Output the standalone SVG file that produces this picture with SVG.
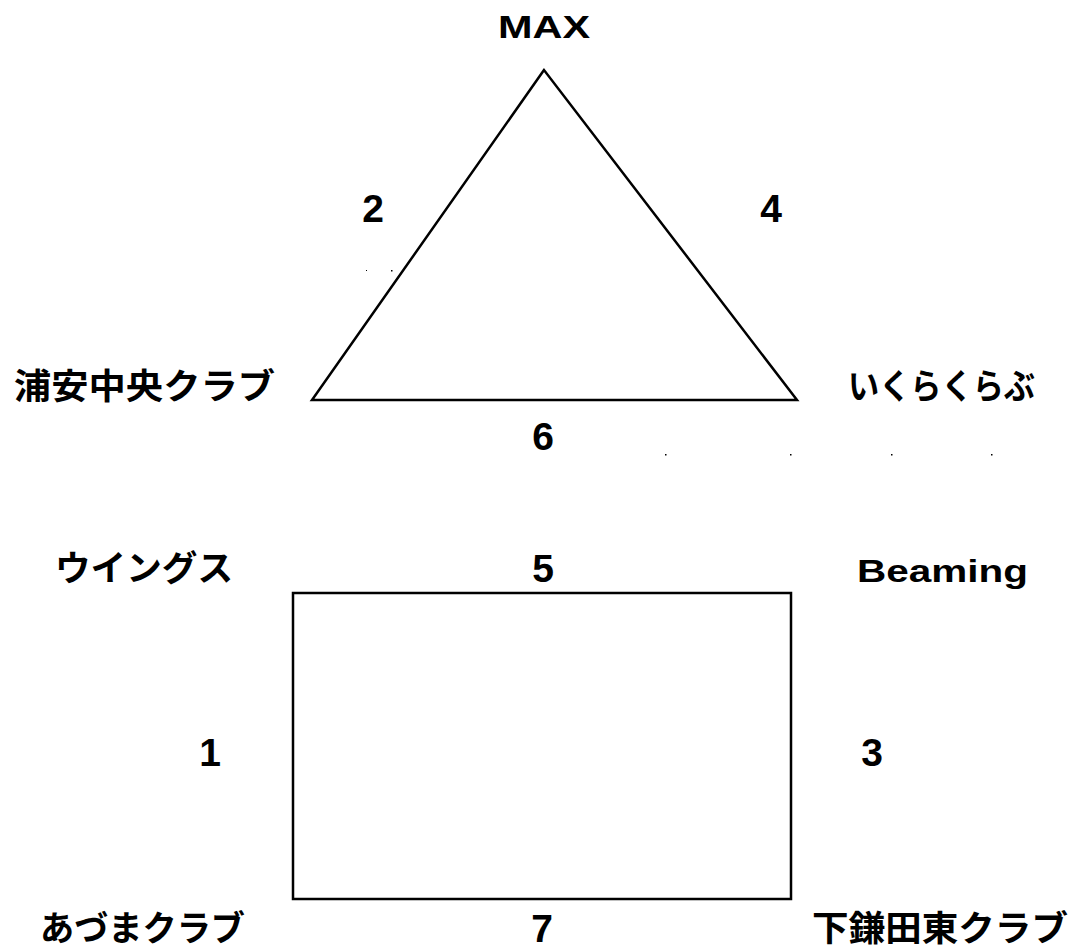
<svg xmlns="http://www.w3.org/2000/svg" width="1076" height="952" viewBox="0 0 1076 952">
<style>
.bg{fill:#fff}
.shape{fill:none;stroke:#000;stroke-width:2.5}
.lat{font-family:"Liberation Sans","Noto Sans CJK JP",sans-serif;font-weight:bold;fill:#000}
.num{font-family:"Liberation Sans","Noto Sans CJK JP",sans-serif;font-weight:bold;fill:#000;font-size:39px;text-anchor:middle}
.jp{font-family:"Noto Sans CJK JP",sans-serif;font-weight:bold;fill:#000;font-size:35px}
.dot{fill:#000}
</style>
<rect class="bg" width="1076" height="952"/>
<g id="connectors">
<polygon class="shape" points="544,70 312,400 797,400"/>
<rect class="shape" x="293" y="593" width="498" height="306"/>
</g>
<g id="node-max"><text class="lat" x="498" y="38" font-size="31" textLength="92" lengthAdjust="spacingAndGlyphs">MAX</text></g>
<g id="node-urayasu"><text class="jp" x="14" y="399" textLength="261" lengthAdjust="spacingAndGlyphs">浦安中央クラブ</text></g>
<g id="node-ikura"><text class="jp" x="848" y="399" textLength="187" lengthAdjust="spacingAndGlyphs">いくらくらぶ</text></g>
<g id="node-wings"><text class="jp" x="55" y="581" textLength="178" lengthAdjust="spacingAndGlyphs">ウイングス</text></g>
<g id="node-beaming"><text class="lat" x="857" y="582" font-size="31" textLength="171" lengthAdjust="spacingAndGlyphs">Beaming</text></g>
<g id="node-azuma"><text class="jp" x="40" y="941" textLength="205" lengthAdjust="spacingAndGlyphs">あづまクラブ</text></g>
<g id="node-shimokamata"><text class="jp" x="812" y="941" textLength="256" lengthAdjust="spacingAndGlyphs">下鎌田東クラブ</text></g>
<g id="labels">
<text class="num" x="373" y="222">2</text>
<text class="num" x="771" y="222">4</text>
<text class="num" x="543" y="450">6</text>
<text class="num" x="543" y="582">5</text>
<text class="num" x="210" y="766">1</text>
<text class="num" x="872" y="766">3</text>
<text class="num" x="542" y="942">7</text>
</g>
<g id="dots">
<rect class="dot" x="366" y="270" width="1" height="1"/>
<rect class="dot" x="391" y="270" width="1.5" height="1.5"/>
<rect class="dot" x="665" y="454" width="1.5" height="1.5"/>
<rect class="dot" x="790" y="454" width="1.5" height="1.5"/>
<rect class="dot" x="891" y="454" width="1.5" height="1.5"/>
<rect class="dot" x="991" y="454" width="1.5" height="1.5"/>
</g>
</svg>
